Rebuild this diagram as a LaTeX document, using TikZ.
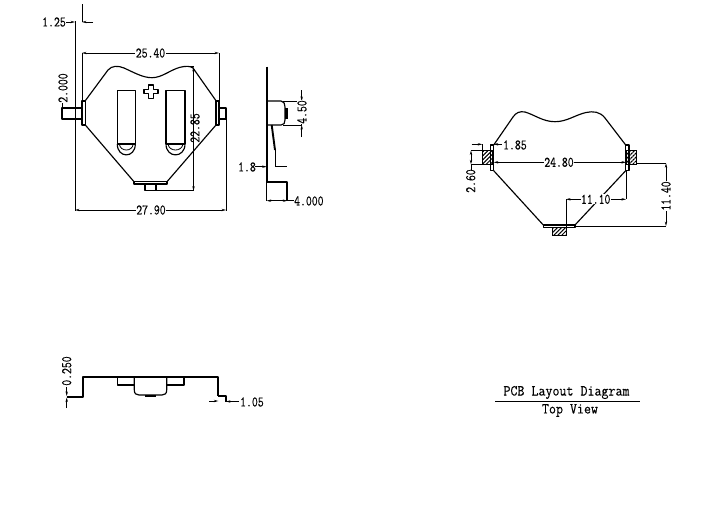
\documentclass[tikz,border=0pt]{standalone}
\usepackage{fontspec}
\usepackage{graphicx}
\usetikzlibrary{arrows.meta,patterns.meta}
\newfontfamily\dimfont{Latin Modern Mono}[FakeBold=0.4]
\newcommand{\tallt}[1]{\scalebox{1}[1.28]{#1}}
\newcommand{\tallc}[1]{\scalebox{1}[1.12]{#1}}
\tikzset{
  thin line/.style={line width=0.8pt,black},
  body/.style={line width=1.15pt,black,line join=round},
  heavy/.style={line width=1.9pt,black,line join=round},
  dim/.style={line width=0.7pt,black},
  arr/.style={dim,{Stealth[length=4.5pt,width=2.4pt]}-{Stealth[length=4.5pt,width=2.4pt]}},
  arrE/.style={dim,-{Stealth[length=4.5pt,width=2.4pt]}},
  lab/.style={font=\fontsize{11.4}{12}\dimfont,inner sep=0.5pt,text=black},
  blab/.style={lab,fill=white},
  title/.style={font=\fontsize{13.6}{14}\dimfont,inner sep=0pt,text=black},
  hatch/.style={draw=black,line width=0.9pt,pattern={Lines[angle=45,distance=2.8pt,line width=1pt]},pattern color=black}
}
\begin{document}
\begin{tikzpicture}[x=1pt,y=-1pt]
\useasboundingbox (0,0) rectangle (710,504);
\fill[white] (0,0) rectangle (710,504);

%% ---------- front view ----------
\draw[body] (85.3,100.7) -- (108,70) .. controls (112,65.5) and (118,65.5) .. (124,68)
  .. controls (135,73) and (143,77.7) .. (152,77.7)
  .. controls (162,77.7) and (170,70) .. (180,67.3)
  .. controls (186,65.8) and (190,66) .. (193,68) -- (216,100.7);
\draw[body] (85.3,125) -- (134,181.7);
\draw[body] (216,125) -- (167,181.7);
\draw[body] (82,101) rectangle (85.3,125);
\draw[body] (216,101) rectangle (219,125);
\draw[body] (134,181.7) rectangle (167,184);
\draw[body] (145,184) rectangle (156,190.7);
\draw[body] (62,108) rectangle (82,119);
\draw[body] (219,108) rectangle (226,119);
% slots
\foreach \xa/\xb in {117.3/135.3,166/185}{
  \draw[body] (\xa,144) -- (\xa,90.7) -- (\xb,90.7) -- (\xb,144);
  \draw[body] (\xa,144) -- (\xb,144);
  \draw[body] (\xa,144) .. controls (\xa,158.5) and (\xb,158.5) .. (\xb,144);
  \draw[thin line] (\xa+2,144) .. controls (\xa+3,152) and (\xb-3,152) .. (\xb-2,144);
}
% plus
\draw[body] (148.5,85) -- (153.5,85) -- (153.5,89.5) -- (158,89.5) -- (158,93.5) -- (153.5,93.5)
  -- (153.5,98.5) -- (148.5,98.5) -- (148.5,93.5) -- (144,93.5) -- (144,89.5) -- (148.5,89.5) -- cycle;
% dimensions
\draw[dim] (82,4) -- (82,22);
\draw[arrE] (93,22) -- (82,22);
\draw[dim] (75,21) -- (75,211);
\draw[arrE] (66,22) -- (75,22);
\node[lab] (d125) at (54,22) {\tallt{1.25}};
\draw[dim] (82,53) -- (82,101);
\draw[dim] (219,53) -- (219,101);
\draw[arr] (82,53) -- (219,53);
\node[blab] (d2540) at (150.5,53) {\tallt{25.40}};
\draw[dim] (62,103) -- (62,119);
\node[lab,rotate=90] (d2000) at (63,88) {\tallt{2.000}};
\draw[dim] (183,66.7) -- (194,66.7);
\draw[dim] (156,190.7) -- (193.5,190.7);
\draw[arr] (193.5,67) -- (193.5,190.7);
\node[lab,rotate=90] (d2285) at (195,128) {\tallt{22.85}};
\draw[dim] (226,108) -- (226,211);
\draw[arr] (75,210) -- (226,210);
\node[blab] (d2790) at (151,210) {\tallt{27.90}};

%% ---------- side view ----------
\draw[heavy] (266.7,66.7) -- (266.7,182);
\draw[dim] (266.7,182) -- (266.7,201);
\draw[body] (266.7,101) -- (281,101) .. controls (284,101) and (285,104) .. (285,107) -- (285,120)
  .. controls (285,123) and (284,125) .. (281,125) -- (266.7,125);
\fill[black] (285,108) rectangle (288.3,119);
\draw[heavy] (271.7,125) -- (275,150);
\draw[dim] (275,150) -- (275,166.7) -- (287,166.7);
\draw[heavy] (266.7,182.3) -- (287.3,182.3) -- (287.3,200.5);
\draw[arr] (266.7,200.7) -- (287.3,200.7);
\draw[dim] (287.3,200.7) -- (294,200.7);
\node[lab,anchor=west] (d4000) at (293.5,201) {\tallt{4.000}};
\node[lab] (d18) at (247,167) {\tallt{1.8}};
\draw[arrE] (255,166.7) -- (266.7,166.7);
\draw[dim] (283,101) -- (301.7,101);
\draw[dim] (283,125) -- (301.7,125);
\draw[arrE] (301.7,90) -- (301.7,101);
\draw[arrE] (301.7,137) -- (301.7,125);
\draw[dim] (301.7,101) -- (301.7,125);
\node[blab,rotate=90] (d450) at (302,112) {\tallt{4.50}};

%% ---------- PCB layout ----------
\draw[body] (493.7,145) -- (513,117) .. controls (516,112.5) and (520,111) .. (525,112)
  .. controls (535,115) and (543,121.7) .. (555,121.7)
  .. controls (567,121.7) and (575,115) .. (586,112.5)
  .. controls (593,111) and (600,111.5) .. (605,118) -- (625.7,145);
\draw[body] (493.7,170.7) -- (543.3,225);
\draw[body] (625.7,170.7) -- (575,225);
\draw[body] (490.3,145) rectangle (493.7,170.7);
\draw[body] (625.7,145) rectangle (629,170.7);
\draw[body] (543.3,225) rectangle (575,227.3);
\draw[hatch] (482.3,150) rectangle (492.7,164.3);
\draw[hatch] (626.7,150) rectangle (636.7,164.3);
\draw[hatch] (552.7,227.3) rectangle (566.7,235.7);
% dims
\draw[arr] (493.7,162.3) -- (626,162.3);
\node[blab] (d2480) at (559,162.3) {\tallt{24.80}};
\draw[dim] (482.3,150) -- (482.3,144.3);
\draw[arrE] (471.7,144.3) -- (482.3,144.3);
\draw[arrE] (501.7,144.3) -- (493.7,144.3);
\node[lab,anchor=west] (d185) at (502.5,145) {\tallt{1.85}};
\draw[dim] (471,150.5) -- (482.3,150.5);
\draw[dim] (471,164.3) -- (482.3,164.3);
\draw[arr] (471,150.5) -- (471,164.3);
\draw[dim] (471,164.3) -- (471,170);
\node[lab,rotate=90] (d260) at (470.7,181) {\tallt{2.60}};
\draw[dim] (566,235) -- (566,199.3);
\draw[dim] (626,170) -- (626,199.3);
\draw[arr] (566,199.3) -- (626,199.3);
\node[blab] (d1110) at (595.7,199.3) {\tallt{11.10}};
\draw[dim] (636.7,163.3) -- (666,163.3);
\draw[thin line] (575,226) -- (666,226);
\draw[arr] (666,163.3) -- (666,226);
\node[blab,rotate=90] (d1140) at (666,196) {\tallt{11.40}};

%% ---------- bottom view ----------
\draw[heavy] (66.7,396.7) -- (83.3,396.7) -- (83.3,376.7) -- (218.3,376.7) -- (218.3,396);
\draw[body] (218.3,396) -- (226,396) -- (226,402);
\draw[body] (117.7,376.7) rectangle (134.3,385);
\draw[body] (166.7,376.7) rectangle (184,385);
\draw[heavy] (117.7,385) -- (134.3,385);
\draw[heavy] (166.7,385) -- (184,385);
\draw[body] (134.3,376.7) -- (134.3,390) .. controls (134.3,393.5) and (136,395) .. (139,395)
  -- (162,395) .. controls (165,395) and (166.7,393.5) .. (166.7,390) -- (166.7,376.7);
\fill[black] (145,395) rectangle (156,397.3);
\node[lab,rotate=90] (d0250) at (66.7,371) {\tallt{0.250}};
\draw[arrE] (66.7,387) -- (66.7,396);
\draw[arrE] (66.7,408) -- (66.7,397.5);
\draw[arrE] (209,401) -- (218.3,401);
\draw[arrE] (239,401.5) -- (226,401.5);
\node[lab,anchor=west] (d105) at (239.5,402) {\tallt{1.05}};

%% ---------- caption ----------
\node[title] (t1) at (566.5,392.5) {\tallc{PCB Layout Diagram}};
\draw[dim,line width=0.9pt] (495,401.7) -- (640,401.7);
\node[title] (t2) at (570,410.5) {\tallc{Top View}};
\end{tikzpicture}
\end{document}
